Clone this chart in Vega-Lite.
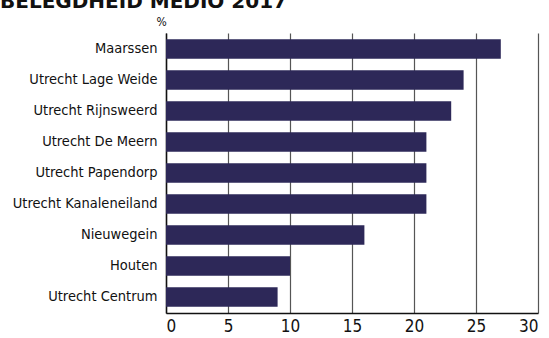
{
  "$schema": "https://vega.github.io/schema/vega-lite/v6.json",
  "autosize": "none",
  "width": 372,
  "height": 280,
  "padding": {"left": 166, "top": 33, "right": 11, "bottom": 25},
  "background": "white",
  "title": {
    "text": "BELEGDHEID MEDIO 2017",
    "anchor": "start",
    "frame": "group",
    "font": "DejaVu Sans",
    "fontWeight": "bold",
    "fontSize": 20,
    "color": "#111111",
    "baseline": "bottom",
    "offset": 4,
    "dx": -166,
    "dy": 21
  },
  "data": {
    "values": [
      {"locatie": "Maarssen", "pct": 27},
      {"locatie": "Utrecht Lage Weide", "pct": 24},
      {"locatie": "Utrecht Rijnsweerd", "pct": 23},
      {"locatie": "Utrecht De Meern", "pct": 21},
      {"locatie": "Utrecht Papendorp", "pct": 21},
      {"locatie": "Utrecht Kanaleneiland", "pct": 21},
      {"locatie": "Nieuwegein", "pct": 16},
      {"locatie": "Houten", "pct": 10},
      {"locatie": "Utrecht Centrum", "pct": 9}
    ]
  },
  "mark": {"type": "bar", "color": "#2d2858"},
  "encoding": {
    "y": {
      "field": "locatie",
      "type": "nominal",
      "sort": null,
      "scale": {"paddingInner": 0.37, "paddingOuter": 0.2},
      "axis": {
        "title": "%",
        "titleAngle": 0,
        "titleX": -5,
        "titleY": -5,
        "titleAlign": "center",
        "titleBaseline": "bottom",
        "titleFont": "DejaVu Sans Condensed, DejaVu Sans",
        "titleFontSize": 12,
        "titleFontWeight": "normal",
        "titleColor": "#111111",
        "labelFont": "DejaVu Sans Condensed, DejaVu Sans",
        "labelFontSize": 14.5,
        "labelColor": "#111111",
        "labelPadding": 9,
        "ticks": false,
        "domainColor": "#111111",
        "domainWidth": 1.5,
        "grid": false
      }
    },
    "x": {
      "field": "pct",
      "type": "quantitative",
      "scale": {"domain": [0, 30], "nice": false},
      "axis": {
        "title": null,
        "values": [0, 5, 10, 15, 20, 25, 30],
        "labelFont": "DejaVu Sans Condensed, DejaVu Sans",
        "labelFontSize": 17,
        "labelColor": "#111111",
        "labelPadding": 5,
        "ticks": false,
        "domainColor": "#111111",
        "domainWidth": 1.5,
        "grid": true,
        "gridColor": "#555555",
        "gridWidth": 1.2,
        "gridOpacity": 1
      }
    }
  },
  "config": {"view": {"stroke": null}}
}
